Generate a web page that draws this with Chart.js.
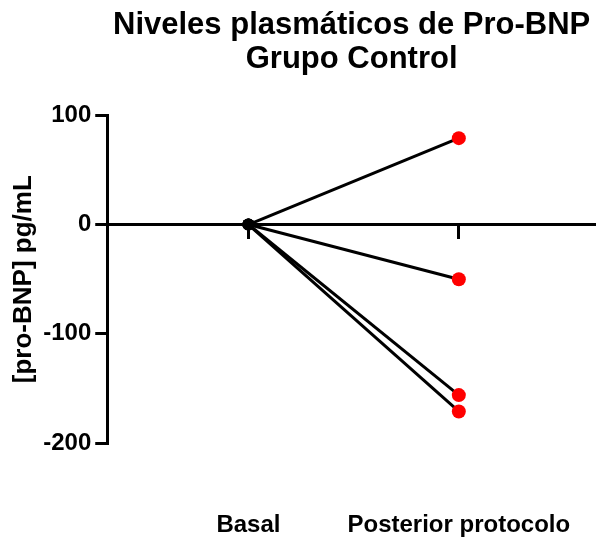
<!DOCTYPE html>
<html>
<head>
<meta charset="utf-8">
<script src="https://cdn.jsdelivr.net/npm/chart.js@4"></script>
<style>
  body { margin: 0; background: #fff; }
  #wrap { width: 596px; height: 537px; }
</style>
</head>
<body>
<div id="wrap"><canvas id="chart"></canvas></div>
<script>
// datos
const groupLabels = ['Basal', 'Posterior protocolo'];
const groupX = [0, 1];
const basal = [0, 0, 0, 0];
const posterior = [79, -50, -156, -171];
const yTicks = [-200, -100, 0, 100];

Chart.defaults.font.family = '"Liberation Sans", Arial, sans-serif';
Chart.defaults.color = '#000';

const datasets = posterior.map((v, i) => ({
    data: [{ x: groupX[0], y: basal[i] }, { x: groupX[1], y: v }],
    borderColor: '#000',
    borderWidth: 3,
    pointBackgroundColor: ['#000', '#ff0000'],
    pointBorderWidth: 0,
    pointRadius: [6, 7],
    fill: false,
    tension: 0
}));

function setGroupTicks(scale) {
    scale.ticks = groupX.map(v => ({ value: v }));
}

new Chart(document.getElementById('chart'), {
    type: 'line',
    data: { datasets: datasets },
    options: {
        responsive: true,
        maintainAspectRatio: false,
        animation: false,
        layout: { autoPadding: false, padding: { left: 8, right: 0, top: 0, bottom: 0 } },
        plugins: {
            legend: { display: false },
            tooltip: { enabled: false },
            title: {
                display: true,
                fullSize: false,
                text: ['Niveles plasmáticos de Pro-BNP', 'Grupo Control'],
                font: { size: 31, weight: 'bold', lineHeight: 1.1 },
                color: '#000',
                padding: { top: 8, bottom: 39 }
            }
        },
        scales: {
            // eje horizontal en y = 0
            x: {
                type: 'linear',
                position: { y: 0 },
                min: -0.671,
                max: 1.652,
                afterBuildTicks: setGroupTicks,
                ticks: { display: false },
                grid: { drawOnChartArea: false, drawTicks: true, tickLength: 13, color: '#000', lineWidth: 3 },
                border: { display: true, color: '#000', width: 3 }
            },
            // etiquetas de grupo abajo
            x2: {
                type: 'linear',
                axis: 'x',
                position: 'bottom',
                min: -0.671,
                max: 1.652,
                afterBuildTicks: setGroupTicks,
                afterFit: (scale) => { scale.paddingLeft = 0; scale.paddingRight = 0; },
                ticks: {
                    autoSkip: false,
                    maxRotation: 0,
                    padding: -3,
                    font: { size: 24, weight: 'bold' },
                    color: '#000',
                    callback: (v) => groupLabels[groupX.indexOf(v)]
                },
                grid: { display: false, drawTicks: true, tickLength: 71 },
                border: { display: false }
            },
            y: {
                min: -200,
                max: 100,
                afterBuildTicks: (scale) => { scale.ticks = yTicks.map(v => ({ value: v })); },
                ticks: { padding: 4, font: { size: 24, weight: 'bold' }, color: '#000' },
                grid: { drawOnChartArea: false, drawTicks: true, tickLength: 12, color: '#000', lineWidth: 3 },
                border: { display: true, color: '#000', width: 3 },
                title: {
                    display: true,
                    text: '[pro-BNP] pg/mL',
                    font: { size: 26, weight: 'bold' },
                    color: '#000',
                    padding: { top: 0, bottom: 0 }
                }
            }
        }
    }
});
</script>
</body>
</html>
